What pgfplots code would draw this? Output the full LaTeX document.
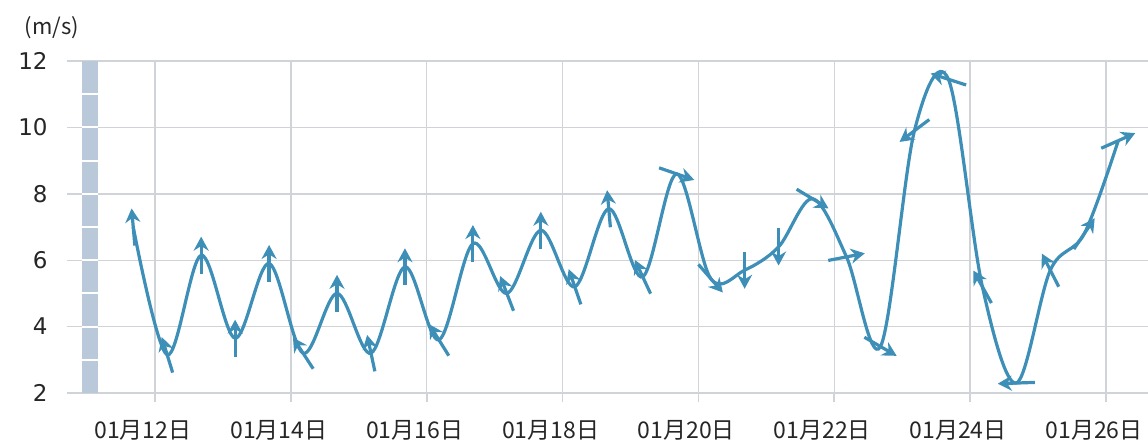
\documentclass[border=0pt]{standalone}
\usepackage{fontspec}
\setmainfont{DejaVu Sans}
\newfontfamily\cjk{Noto Sans CJK SC}
\usepackage{pgfplots}
\pgfplotsset{compat=1.18}
\usepackage{pgfplotstable}
\usetikzlibrary{arrows.meta}

\definecolor{wind}{RGB}{62,143,183}
\definecolor{gridc}{RGB}{208,211,215}
\definecolor{barc}{RGB}{185,201,217}

% x = day of January, y = wind speed (m/s), a = arrow direction on screen (deg)
\pgfplotstableread{
x     y     a
11.68 7.00  95
12.18 3.15  107
12.68 6.15  90
13.18 3.65  90
13.68 5.90  90
14.18 3.20  123
14.68 5.00  90
15.18 3.20  102
15.68 5.80  90
16.18 3.60  122
16.68 6.50  90
17.18 5.00  111
17.68 6.90  90
18.18 5.20  109
18.68 7.55  95
19.18 5.50  115
19.68 8.60  -19
20.18 5.45  -49
20.68 5.70  270
21.18 6.40  270
21.68 7.85  -31
22.18 6.10  11
22.68 3.40  -30
23.18 9.90  217
23.68 11.45 162
24.18 5.20  119
24.68 2.30  182
25.18 5.70  117
25.68 6.80  56
26.18 9.60  24
}\winddata

\begin{document}
\begin{tikzpicture}
\begin{axis}[
    scale only axis,
    width=540.5pt, height=166pt,
    xmin=10.705, xmax=26.618,
    ymin=2, ymax=12,
    axis line style={draw=none},
    xtick={12,14,16,18,20,22,24,26},
    xticklabels={01月12日,01月14日,01月16日,01月18日,01月20日,01月22日,01月24日,01月26日},
    ytick={2,4,6,8,10,12},
    grid=major,
    major grid style={gridc, line width=0.7pt},
    xtick pos=bottom,
    tick align=outside,
    major tick length=4.5pt,
    xtick style={gridc, line width=0.8pt},
    ytick style={draw=none},
    xticklabel style={font=\cjk\fontsize{11.5}{12}\selectfont, text=black!85, inner sep=0pt, anchor=center, yshift=-14pt, xshift=-6pt},
    yticklabel style={font=\fontsize{11.5}{12}\selectfont, text=black!85, inner sep=0pt, anchor=east, xshift=-5pt},
    /pgf/number format/assume math mode=true,
    clip=false,
]
\coordinate (O) at (rel axis cs:0,0);

% shaded band along the left edge
\fill[barc] (axis cs:10.925,2) rectangle (axis cs:11.161,12);
\pgfplotsinvokeforeach{3,...,11}{
  \draw[white, line width=1pt] (axis cs:10.925,#1) -- (axis cs:11.161,#1);
}

\addplot[wind, line width=1.6pt, smooth, tension=0.55] table[x=x, y=y] {\winddata};

% direction arrows, centred on each point
\addplot[wind, line width=1.6pt, -{Stealth[length=7pt, width=7.5pt]},
    quiver={u={0.274*cos(\thisrow{a})}, v={0.56*sin(\thisrow{a})}}]
    table[x=x, y=y] {\winddata};
\addplot[wind, line width=1.6pt,
    quiver={u={-0.274*cos(\thisrow{a})}, v={-0.56*sin(\thisrow{a})}}]
    table[x=x, y=y] {\winddata};

\node[font=\cjk\fontsize{11}{12}\selectfont, text=black!85] at (rel axis cs:0,0) [xshift=-7.5pt, yshift=182.5pt] {(m/s)};
\end{axis}
\pgfresetboundingbox
\path[use as bounding box] (O) ++(-33.5pt,-27pt) rectangle ++(574pt,223.5pt);
\end{tikzpicture}
\end{document}
